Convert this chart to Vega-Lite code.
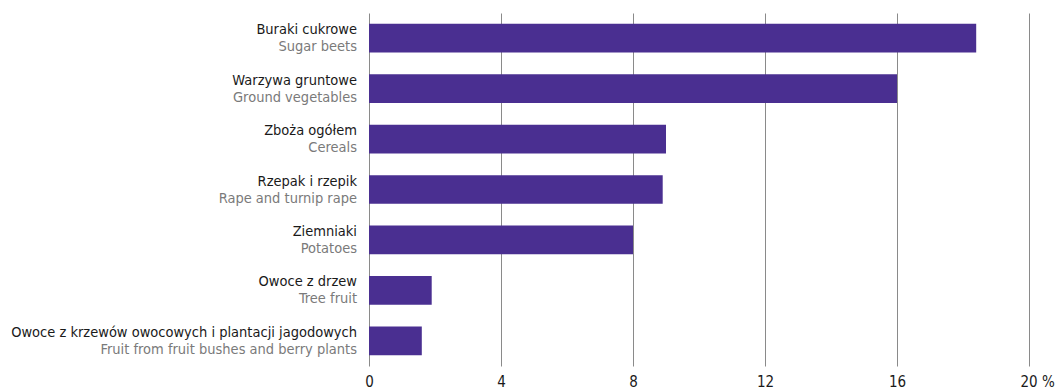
{
  "$schema": "https://vega.github.io/schema/vega-lite/v6.json",
  "width": 660,
  "height": 353,
  "autosize": {"type": "none"},
  "padding": {"left": 369, "top": 13, "right": 29, "bottom": 25},
  "background": "white",
  "config": {"view": {"stroke": null}, "font": "DejaVu Sans Condensed"},
  "data": {
    "values": [
      {"pl": "Buraki cukrowe", "en": "Sugar beets", "value": 18.4},
      {"pl": "Warzywa gruntowe", "en": "Ground vegetables", "value": 16.0},
      {"pl": "Zboża ogółem", "en": "Cereals", "value": 9.0},
      {"pl": "Rzepak i rzepik", "en": "Rape and turnip rape", "value": 8.9},
      {"pl": "Ziemniaki", "en": "Potatoes", "value": 8.0},
      {"pl": "Owoce z drzew", "en": "Tree fruit", "value": 1.9},
      {"pl": "Owoce z krzewów owocowych i plantacji jagodowych", "en": "Fruit from fruit bushes and berry plants", "value": 1.6}
    ]
  },
  "encoding": {
    "y": {
      "field": "pl",
      "type": "nominal",
      "sort": null,
      "scale": {"paddingInner": 0.43, "paddingOuter": 0.215},
      "axis": null
    }
  },
  "layer": [
    {
      "mark": {"type": "bar", "color": "#4a2f91"},
      "encoding": {
        "x": {
          "field": "value",
          "type": "quantitative",
          "scale": {"domain": [0, 20]},
          "axis": {
            "title": null,
            "values": [0, 4, 8, 12, 16, 20],
            "grid": true,
            "gridColor": "#8a8a8a",
            "gridWidth": 1,
            "domain": false,
            "ticks": false,
            "labelPadding": 8,
            "labelFontSize": 15,
            "labelColor": "#1a1a1a",
            "labelFont": "DejaVu Sans Condensed",
            "labelExpr": "datum.value == 20 ? '20 %' : datum.label",
            "labelAlign": {"condition": {"test": "datum.value == 20", "value": "left"}, "value": "center"},
            "labelOffset": {"condition": {"test": "datum.value == 20", "value": -9}, "value": 0}
          }
        }
      }
    },
    {
      "mark": {"type": "text", "align": "right", "baseline": "alphabetic", "dx": -12, "dy": -4, "fontSize": 14.5, "color": "#1a1a1a"},
      "encoding": {"x": {"datum": 0, "type": "quantitative"}, "text": {"field": "pl"}}
    },
    {
      "mark": {"type": "text", "align": "right", "baseline": "alphabetic", "dx": -12, "dy": 13, "fontSize": 14.5, "color": "#7a7a7a"},
      "encoding": {"x": {"datum": 0, "type": "quantitative"}, "text": {"field": "en"}}
    }
  ]
}
